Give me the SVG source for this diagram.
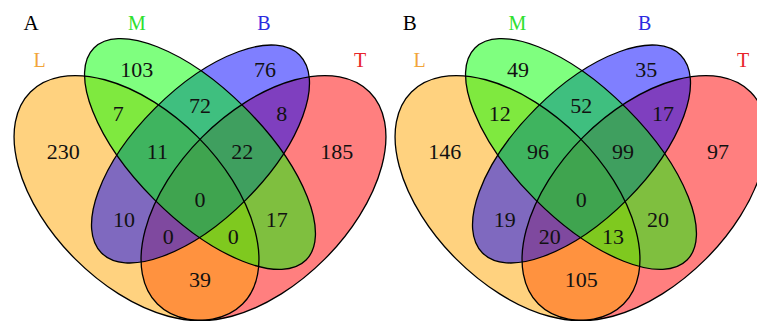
<svg xmlns="http://www.w3.org/2000/svg" xmlns:xlink="http://www.w3.org/1999/xlink" width="757" height="324" viewBox="0 0 757 324">
  <style>
    .fill { stroke: none; fill-opacity: 0.5; }
    .fL { fill: #FFA500; }
    .fM { fill: #00FF00; }
    .fB { fill: #0000FF; }
    .fT { fill: #FF0000; }
    .edge { fill: none; stroke: #000; stroke-width: 1.3; }
    .num { font-family: "Liberation Serif", "Times New Roman", serif; font-size: 22px; fill: #111; text-anchor: middle; }
    .set { font-family: "Liberation Serif", "Times New Roman", serif; font-size: 20px; text-anchor: middle; }
    .panel { font-family: "Liberation Serif", "Times New Roman", serif; font-size: 21px; fill: #000; text-anchor: middle; }
  </style>
  <defs>
    <!-- four-set ellipse layout, shared by both panels -->
    <ellipse id="eL" cx="0" cy="0" rx="150" ry="86.5" transform="translate(136.5 198) rotate(45)"/>
    <ellipse id="eT" cx="0" cy="0" rx="150" ry="86.5" transform="translate(263.5 198) rotate(-45)"/>
    <ellipse id="eM" cx="0" cy="0" rx="150" ry="64.5" transform="translate(200 154) rotate(45)"/>
    <ellipse id="eB" cx="0" cy="0" rx="140" ry="64.5" transform="translate(200.5 154) rotate(-45)"/>
  </defs>

  <!-- Panel A -->
  <g id="panel-a">
    <text class="panel" x="31" y="30">A</text>
    <g id="a-set-T">
      <use xlink:href="#eT" class="fill fT"/>
      <text class="set" x="360" y="66.5" fill="#E8242A">T</text>
    </g>
    <g id="a-set-L">
      <use xlink:href="#eL" class="fill fL"/>
      <text class="set" x="39.5" y="66.5" fill="#F2A43A">L</text>
    </g>
    <g id="a-set-B">
      <use xlink:href="#eB" class="fill fB"/>
      <text class="set" x="264" y="29.5" fill="#2B2BE0">B</text>
    </g>
    <g id="a-set-M">
      <use xlink:href="#eM" class="fill fM"/>
      <text class="set" x="137" y="29.5" fill="#2EE02E">M</text>
    </g>
    <g id="a-outlines">
      <use xlink:href="#eT" class="edge"/>
      <use xlink:href="#eL" class="edge"/>
      <use xlink:href="#eB" class="edge"/>
      <use xlink:href="#eM" class="edge"/>
    </g>
    <g id="a-counts">
      <text class="num" x="136.7" y="77">103</text>
      <text class="num" x="265" y="77">76</text>
      <text class="num" x="118.3" y="120.7">7</text>
      <text class="num" x="200" y="112.7">72</text>
      <text class="num" x="281.7" y="120.7">8</text>
      <text class="num" x="63.3" y="159">230</text>
      <text class="num" x="157.3" y="159">11</text>
      <text class="num" x="242.3" y="159">22</text>
      <text class="num" x="336.7" y="159">185</text>
      <text class="num" x="200" y="206.7">0</text>
      <text class="num" x="124" y="226.7">10</text>
      <text class="num" x="276.7" y="226.7">17</text>
      <text class="num" x="168.3" y="244">0</text>
      <text class="num" x="233.3" y="244">0</text>
      <text class="num" x="200" y="287">39</text>
    </g>
  </g>

  <!-- Panel B -->
  <g id="panel-b">
    <text class="panel" x="409.7" y="30">B</text>
    <g transform="translate(381 0)">
      <g id="b-set-T">
        <use xlink:href="#eT" class="fill fT"/>
        <text class="set" x="362" y="66.5" fill="#E8242A">T</text>
      </g>
      <g id="b-set-L">
        <use xlink:href="#eL" class="fill fL"/>
        <text class="set" x="38.7" y="66.5" fill="#F2A43A">L</text>
      </g>
      <g id="b-set-B">
        <use xlink:href="#eB" class="fill fB"/>
        <text class="set" x="263.7" y="29.5" fill="#2B2BE0">B</text>
      </g>
      <g id="b-set-M">
        <use xlink:href="#eM" class="fill fM"/>
        <text class="set" x="136.3" y="29.5" fill="#2EE02E">M</text>
      </g>
      <g id="b-outlines">
        <use xlink:href="#eT" class="edge"/>
        <use xlink:href="#eL" class="edge"/>
        <use xlink:href="#eB" class="edge"/>
        <use xlink:href="#eM" class="edge"/>
      </g>
    </g>
    <g id="b-counts">
      <text class="num" x="518" y="77">49</text>
      <text class="num" x="646.3" y="77">35</text>
      <text class="num" x="499.7" y="120.7">12</text>
      <text class="num" x="581.3" y="112.7">52</text>
      <text class="num" x="663" y="120.7">17</text>
      <text class="num" x="444.7" y="159">146</text>
      <text class="num" x="538" y="159">96</text>
      <text class="num" x="623" y="159">99</text>
      <text class="num" x="718" y="159">97</text>
      <text class="num" x="581.3" y="206.7">0</text>
      <text class="num" x="504.7" y="226.7">19</text>
      <text class="num" x="658" y="226.7">20</text>
      <text class="num" x="549.7" y="244">20</text>
      <text class="num" x="613" y="244">13</text>
      <text class="num" x="581.3" y="287">105</text>
    </g>
  </g>
</svg>
